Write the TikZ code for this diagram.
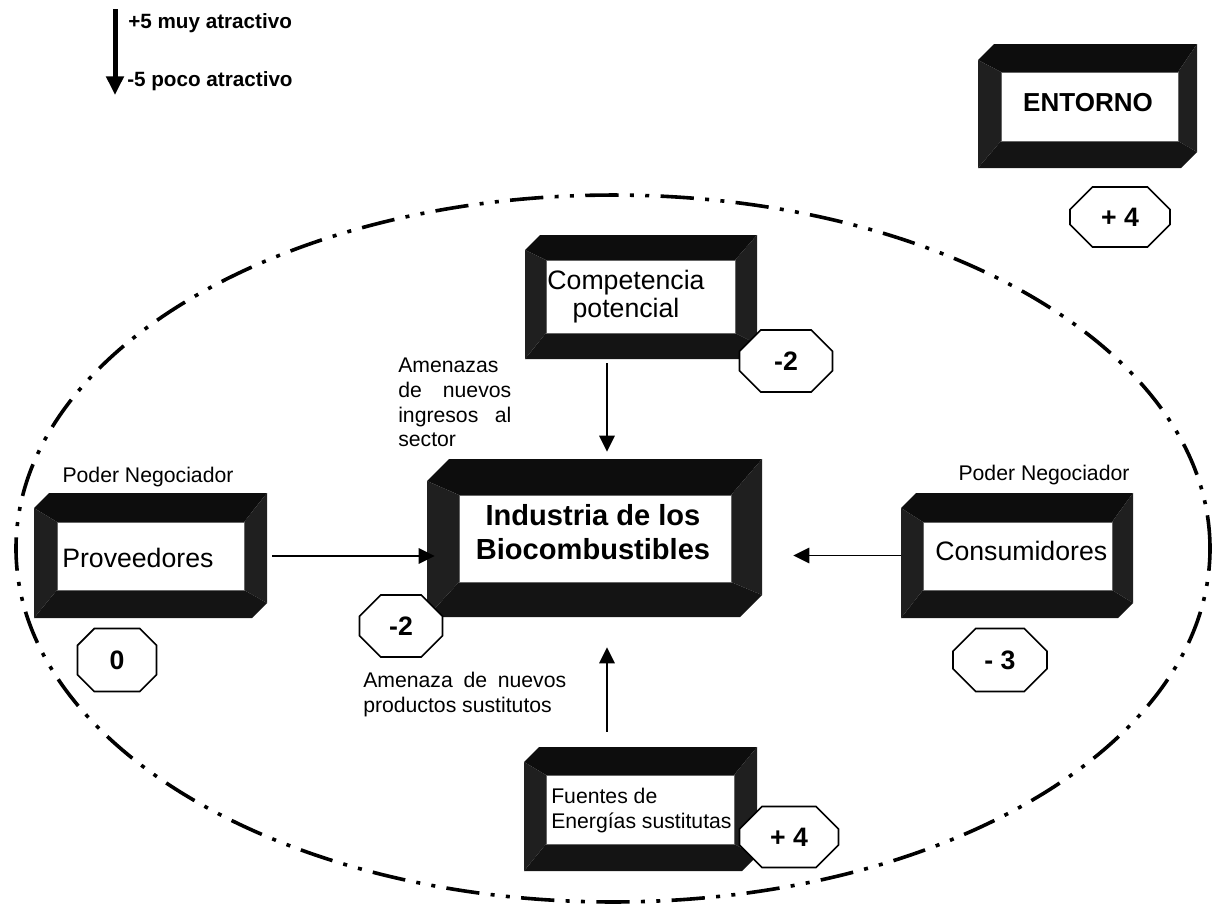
\documentclass[tikz,border=0pt]{standalone}
\usepackage{fontspec}
\setmainfont{Liberation Sans}
\usetikzlibrary{arrows.meta,calc,fit,shapes.misc}

\newcommand{\bevbox}[6]{%
  \coordinate (#1-a) at (#2);
  \coordinate (#1-b) at (#3);
  \coordinate (#1-c) at (#4);
  \coordinate (#1-d) at (#5);
  \fill[facetop] ($(#1-a)+(#6,0)$) -- (#1-b |- #1-a) -- (#1-d |- #1-c) -- (#1-c) -- ($(#1-a)+(0,#6)$) -- cycle;
  \fill[faceside] (#1-b |- #1-a) -- ($(#1-b)+(0,-#6)$) -- (#1-d) -- (#1-d |- #1-c) -- cycle;
  \fill[facebot] ($(#1-b)+(0,-#6)$) -- ($(#1-b)+(-#6,0)$) -- (#1-a |- #1-b) -- (#1-c |- #1-d) -- (#1-d) -- cycle;
  \fill[faceside] (#1-a |- #1-b) -- ($(#1-a)+(0,#6)$) -- (#1-c) -- (#1-c |- #1-d) -- cycle;
  \node[fit=(#1-a)(#1-b), inner sep=0pt] (#1o) {};
  \node[fit=(#1-c)(#1-d), inner sep=0pt, fill=white, draw=black!60, line width=0.4pt] (#1) {};
}

\begin{document}
\begin{tikzpicture}[x=0.75pt,y=-0.75pt,
  facetop/.style={fill=black!95},
  faceside/.style={fill=black!88},
  facebot/.style={fill=black!92},
  octa/.style={chamfered rectangle, chamfered rectangle xsep=10pt, chamfered rectangle ysep=10pt,
    draw=black, line width=1.2pt, fill=white, inner sep=0pt,
    font=\fontsize{20}{24}\selectfont\bfseries},
  arr/.style={line width=1.3pt, -{Triangle[width=11.5pt,length=12pt]}},
  small/.style={font=\fontsize{15.9}{18.75}\selectfont, inner sep=0pt},
  big/.style={font=\fontsize{20}{24}\selectfont, inner sep=0pt},
  legend/.style={font=\fontsize{15.5}{18}\selectfont\bfseries, inner sep=0pt},
]
\useasboundingbox (0,0) rectangle (1214,908);

% environment ellipse
\draw[line width=2.7pt, line cap=butt,
  dash pattern=on 25pt off 8.5pt on 3pt off 8.5pt on 3pt off 8.5pt]
  (613,548.5) ellipse [x radius=447.75pt, y radius=265.1pt];

% legend
\coordinate (legtop) at (115,9);
\coordinate (legbot) at (115,95);
\draw[line width=3.75pt, -{Triangle[width=12.75pt,length=14pt]}] (legtop) -- (legbot);
\node[legend, anchor=base west] (leg1) at (128,28) {+5 muy atractivo};
\node[legend, anchor=base west] (leg2) at (127,86) {-5 poco atractivo};

% boxes
\bevbox{ent}{978,44}{1197,168}{1001,72}{1178,141}{16}
\node[font=\fontsize{19.5}{23}\selectfont\bfseries, inner sep=0pt, anchor=base] (entt) at (1088,111) {ENTORNO};
\node[octa, minimum width=75pt, minimum height=45pt] (oent) at (1120,217) {+ 4};

\bevbox{comp}{525,235}{757,359}{546,260}{735,333}{15}
\node[big, anchor=base] (compt1) at (626,289) {Competencia};
\node[big, anchor=base] (compt2) at (626,317) {potencial};
\node[octa, minimum width=69.75pt, minimum height=46.5pt] (ocomp) at (786,361) {-2};

\bevbox{cen}{427,459}{762,617}{459,495}{731,582}{22}
\node[font=\fontsize{21.8}{26}\selectfont\bfseries, inner sep=0pt, anchor=base] (cent1) at (593,525) {Industria de los};
\node[font=\fontsize{21.8}{26}\selectfont\bfseries, inner sep=0pt, anchor=base] (cent2) at (593,559) {Biocombustibles};
\node[octa, minimum width=62.25pt, minimum height=46.5pt] (ocen) at (401,626) {-2};

\bevbox{prov}{34,493}{267,618}{57,522}{244,590}{15}
\node[big, anchor=base west] (provt) at (62,567) {Proveedores};
\node[small, anchor=base] (provl) at (148,482) {Poder Negociador};
\node[octa, minimum width=59.25pt, minimum height=47.25pt] (oprov) at (117,660) {0};

\bevbox{cons}{901,493}{1133,618}{923,522}{1112,590}{15}
\node[big, anchor=base west] (const) at (935,560) {Consumidores};
\node[small, anchor=base] (consl) at (1044,480) {Poder Negociador};
\node[octa, minimum width=70.5pt, minimum height=47.25pt] (ocons) at (1000,660) {- 3};

\bevbox{fue}{524,747}{757,871}{546,775}{734,844}{15}
\node[small, anchor=base west] (fuet1) at (551,803) {Fuentes de};
\node[small, anchor=base west] (fuet2) at (551,828) {Energías sustitutas};
\node[octa, minimum width=74.25pt, minimum height=45.75pt] (ofue) at (789,837) {+ 4};

% threat labels
\node[small, anchor=base west] (am1) at (398,372) {Amenazas};
\node[small, anchor=base west] (am2) at (398,397) {\makebox[84.75pt][s]{de nuevos}};
\node[small, anchor=base west] (am3) at (398,422) {\makebox[84.75pt][s]{ingresos al}};
\node[small, anchor=base west] (am4) at (398,446) {sector};
\node[small, anchor=base west] (ap1) at (363,687) {\makebox[152.25pt][s]{Amenaza de nuevos}};
\node[small, anchor=base west] (ap2) at (363,712) {productos sustitutos};

% connectors
\draw[arr] ($(compo.south)+(-34,4)$) -- ($(ceno.north)+(12.5,-7)$);
\draw[arr] ($(fueo.north)+(-33.5,-15)$) -- ($(ceno.south)+(12.5,30)$);
\draw[arr] ($(provo.east)+(5,0.5)$) -- ($(ceno.west)+(8,18)$);
\draw[arr] (conso.west) -- ($(ceno.east)+(31,17.5)$);
\end{tikzpicture}
\end{document}
